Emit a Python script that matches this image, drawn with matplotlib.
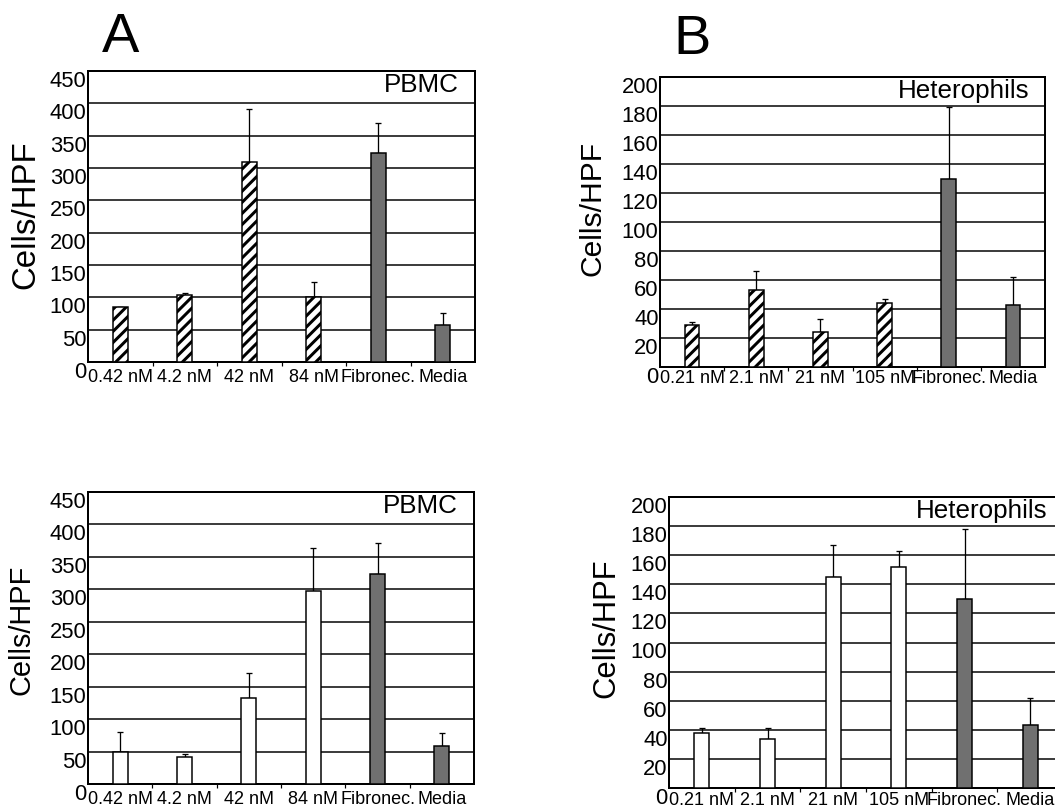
import matplotlib as mpl
mpl.use("Agg")
import matplotlib.pyplot as plt
import numpy as np

# chart values (bar mean and length of upper error bar)
pbmc_doses = ['0.42 nM', '4.2 nM', '42 nM', '84 nM', 'Fibronec.', 'Media']
het_doses = ['0.21 nM', '2.1 nM', '21 nM', '105 nM', 'Fibronec.', 'Media']

pbmc_a = [85, 104, 309, 101, 323, 57]
pbmc_a_err = [0, 2, 82, 22, 47, 19]
het_b = [29, 53, 24, 44, 130, 43]
het_b_err = [2, 13.5, 9, 3, 49, 19]

pbmc_low = [50, 42, 132, 297, 323, 59]
pbmc_low_err = [30, 4, 39, 67, 48, 19]
het_low = [38, 34, 145, 152, 130, 43]
het_low_err = [3.5, 7.5, 22, 11, 48, 19]

# control bars (last two) are solid grey
bar_kind = ['test', 'test', 'test', 'test', 'ctrl', 'ctrl']

W, H = 1055, 811
DPI = 100
P = 72 / DPI        # points per pixel

plt.rcParams['font.family'] = ['Liberation Sans', 'DejaVu Sans']
plt.rcParams['hatch.linewidth'] = 3.0 * P
plt.rcParams['hatch.color'] = 'black'

fig = plt.figure(figsize=(W / DPI, H / DPI), dpi=DPI)


def box(x0, y0, x1, y1):
    return [x0 / W, 1 - y1 / H, (x1 - x0) / W, (y1 - y0) / H]


def panel(rect, labels, vals, errs, ymax, ystep, name, hatched, hcolor, xpad):
    ax = fig.add_axes(box(*rect))
    x = np.arange(len(labels))
    with mpl.rc_context({'hatch.color': hcolor}):
        for xi, v, kind in zip(x, vals, bar_kind):
            if kind == 'ctrl':
                ax.bar(xi, v, width=0.23, color='#707070', edgecolor='black',
                       linewidth=1.5 * P, zorder=3)
            else:
                ax.bar(xi, v, width=0.23, color='white', edgecolor='black',
                       linewidth=1.5 * P, hatch='///' if hatched else None,
                       zorder=3)
    ax.errorbar(x, vals, yerr=[np.zeros(len(errs)), errs], fmt='none',
                ecolor='black', elinewidth=1.3 * P, capsize=3 * P,
                capthick=1.3 * P, zorder=2)
    ax.set_xlim(-0.5, len(labels) - 0.5)
    ax.set_ylim(0, ymax)
    ax.set_yticks(np.arange(0, ymax + 1, ystep))
    ax.yaxis.grid(True, color='black', linewidth=1.5 * P)
    ax.set_axisbelow(True)
    ax.tick_params(axis='y', length=0, pad=1, labelsize=22 * P)
    for lbl in ax.get_yticklabels():
        lbl.set_verticalalignment('top')
    ax.set_xticks(x)
    ax.set_xticklabels(labels)
    ax.tick_params(axis='x', which='major', length=0, pad=xpad, labelsize=18 * P)
    ax.set_xticks(x[:-1] + 0.5, minor=True)
    ax.tick_params(axis='x', which='minor', length=4 * P, width=1.2 * P,
                   direction='out')
    for s in ax.spines.values():
        s.set_linewidth(2 * P)
    ax.text(1 - 16 / (rect[2] - rect[0]), 1 - 21 / (rect[3] - rect[1]), name,
            transform=ax.transAxes, ha='right', va='baseline', fontsize=26 * P,
            zorder=5)
    return ax


panel((88, 71, 475, 362), pbmc_doses, pbmc_a, pbmc_a_err, 450, 50, 'PBMC',
      True, 'black', 7 * P)
panel((660, 77, 1045, 367), het_doses, het_b, het_b_err, 200, 20, 'Heterophils',
      True, '#303030', 3 * P)
panel((88, 492, 474, 784), pbmc_doses, pbmc_low, pbmc_low_err, 450, 50, 'PBMC',
      False, 'black', 7 * P)
panel((669, 497, 1063, 788), het_doses, het_low, het_low_err, 200, 20,
      'Heterophils', False, 'black', 4 * P)

# panel letters
fig.text(102 / W, 1 - 52 / H, 'A', fontsize=56 * P, ha='left', va='baseline')
fig.text(673 / W, 1 - 54 / H, 'B', fontsize=56 * P, ha='left', va='baseline')

# y axis titles
for cx, cy, fs in [(26, 215, 33), (593, 208, 30), (22, 630, 29), (606, 628, 31)]:
    fig.text(cx / W, 1 - cy / H, 'Cells/HPF', rotation=90, ha='center',
             va='center', fontsize=fs * P)

fig.savefig('out.png', dpi=DPI)
